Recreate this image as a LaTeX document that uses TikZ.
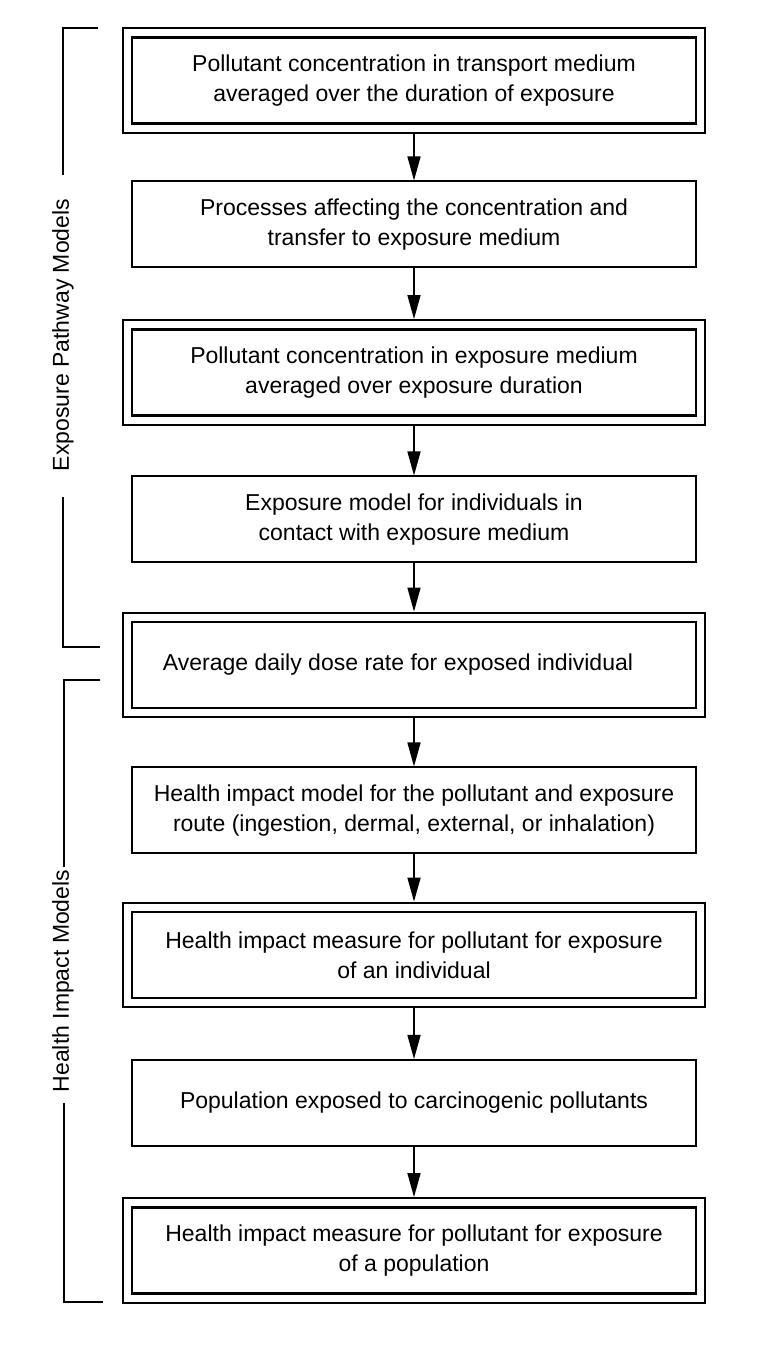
\documentclass[tikz,border=0pt]{standalone}
\usepackage{fontspec}
\setmainfont{Liberation Sans}
\usetikzlibrary{arrows.meta,fit}

\begin{document}
\begin{tikzpicture}[x=1pt,y=1pt,
  every node/.style={font=\fontsize{23}{30}\selectfont},
  box/.style={draw, line width=2pt, minimum width=564pt, minimum height=86pt,
    inner sep=0pt, align=center},
  inbox/.style={box, line width=2.8pt},
  outbox/.style={draw, line width=2pt, inner sep=8pt},
  arr/.style={line width=1.5pt, -{Triangle[length=24pt,width=13pt]}},
  brace/.style={line width=2.5pt}]
  \useasboundingbox (0,0) rectangle (771,1367);

  % the boxes, top to bottom
  \node[inbox] (b1) at (414,1286.5) {Pollutant concentration in transport medium\\averaged over the duration of exposure};
  \node[box]   (b2) at (414,1142.5) {Processes affecting the concentration and\\transfer to exposure medium};
  \node[inbox] (b3) at (414,994.5)  {Pollutant concentration in exposure medium\\averaged over exposure duration};
  \node[box]   (b4) at (414,847.5)  {Exposure model for individuals in\\contact with exposure medium};
  \node[inbox] (b5) at (414,702)    {Average daily dose rate for exposed individual\hspace*{32pt}};
  \node[box]   (b6) at (414,556.5)  {Health impact model for the pollutant and exposure\\route (ingestion, dermal, external, or inhalation)};
  \node[inbox] (b7) at (414,412)    {Health impact measure for pollutant for exposure\\of an individual};
  \node[box]   (b8) at (414,264)    {Population exposed to carcinogenic pollutants};
  \node[inbox] (b9) at (414,116.5)  {Health impact measure for pollutant for exposure\\of a population};

  % outer frames of the double boxes
  \foreach \n in {b1,b3,b5,b7,b9}
    \node[outbox, fit=(\n)] (\n o) {};

  \draw[arr] (b1o) -- (b2);
  \draw[arr] (b2) -- (b3o);
  \draw[arr] (b3o) -- (b4);
  \draw[arr] (b4) -- (b5o);
  \draw[arr] (b5o) -- (b6);
  \draw[arr] (b6) -- (b7o);
  \draw[arr] (b7o) -- (b8);
  \draw[arr] (b8) -- (b9o);

  % brackets on the left
  \node[rotate=90] (expo) at (63,1032) {Exposure Pathway Models};
  \draw[brace] (98,1339) -- (63,1339) -- (63,1192);
  \draw[brace] (63,870) -- (63,720) -- (100,720);

  \node[rotate=90] (health) at (63,386) {Health Impact Models};
  \draw[brace] (100,687) -- (64,687) -- (64,500);
  \draw[brace] (64,264) -- (64,65) -- (103,65);
\end{tikzpicture}
\end{document}
